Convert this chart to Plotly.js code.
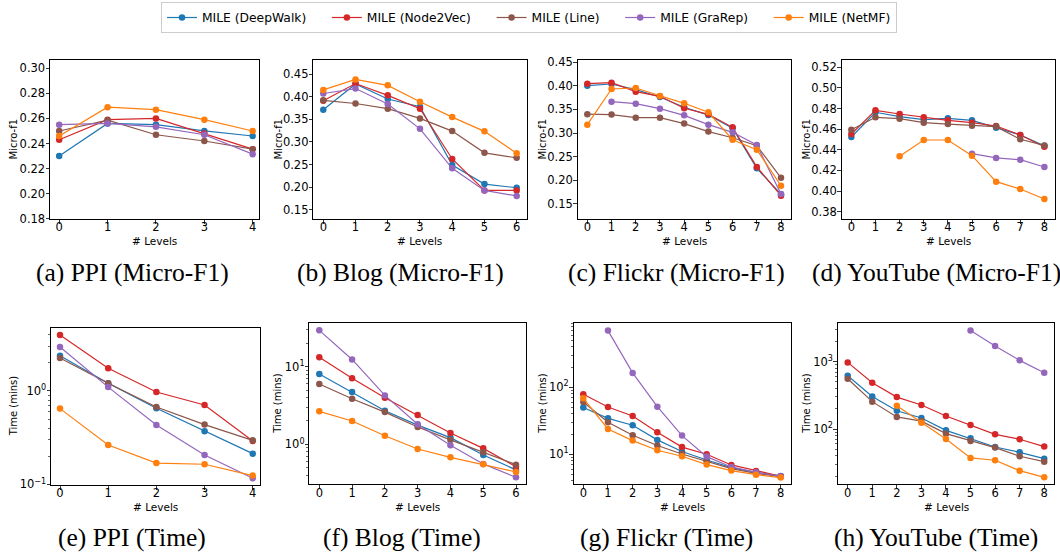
<!DOCTYPE html>
<html><head><meta charset="utf-8">
<script src="https://cdn.plot.ly/plotly-3.0.1.min.js"></script>
<style>html,body{margin:0;padding:0;background:#fff}</style>
</head><body><div id="chart" style="width:1060px;height:552px"></div>
<script>
const methods = ['MILE (DeepWalk)', 'MILE (Node2Vec)', 'MILE (Line)', 'MILE (GraRep)', 'MILE (NetMF)'];
const colors = ['#1f77b4', '#d62728', '#8c564b', '#9467bd', '#ff7f0e'];
const levels4 = [0, 1, 2, 3, 4];
const levels6 = [0, 1, 2, 3, 4, 5, 6];
const levels8 = [0, 1, 2, 3, 4, 5, 6, 7, 8];

// rows: DeepWalk, Node2Vec, Line, GraRep, NetMF
const ppiF1 = [
  [0.230, 0.256, 0.255, 0.250, 0.246],
  [0.243, 0.259, 0.260, 0.248, 0.2355],
  [0.250, 0.2586, 0.247, 0.242, 0.2355],
  [0.255, 0.256, 0.2533, 0.247, 0.2315],
  [0.246, 0.269, 0.267, 0.259, 0.250]
];
const blogF1 = [
  [0.371, 0.428, 0.395, 0.378, 0.249, 0.207, 0.199],
  [0.391, 0.429, 0.403, 0.3735, 0.2625, 0.193, 0.193],
  [0.392, 0.385, 0.3735, 0.352, 0.324, 0.276, 0.265],
  [0.407, 0.418, 0.384, 0.329, 0.242, 0.193, 0.181],
  [0.415, 0.438, 0.425, 0.389, 0.355, 0.3235, 0.275]
];
const flickrF1 = [
  [0.4005, 0.404, 0.392, 0.3764, 0.3545, 0.338, 0.310, 0.225, 0.170],
  [0.4047, 0.4068, 0.3877, 0.3778, 0.3524, 0.3396, 0.312, 0.228, 0.167],
  [0.340, 0.339, 0.3325, 0.3325, 0.320, 0.303, 0.290, 0.273, 0.205],
  [null, 0.3665, 0.3623, 0.3517, 0.3375, 0.3177, 0.3014, 0.2745, 0.1705],
  [0.3177, 0.3934, 0.3955, 0.3785, 0.363, 0.344, 0.2858, 0.2646, 0.188]
];
const youtubeF1 = [
  [0.4524, 0.4764, 0.4721, 0.4692, 0.4705, 0.4686, 0.4615, 0.4544, 0.444],
  [0.4553, 0.4783, 0.4747, 0.4715, 0.4686, 0.4663, 0.4631, 0.4544, 0.443],
  [0.4595, 0.4715, 0.4702, 0.4663, 0.465, 0.4634, 0.4625, 0.4502, 0.4443],
  [null, null, null, null, null, 0.4363, 0.4321, 0.4304, 0.4233],
  [null, null, 0.4337, 0.4495, 0.4495, 0.4343, 0.4091, 0.402, 0.3923]
];
const ppiTime = [
  [2.39, 1.21, 0.652, 0.37, 0.213],
  [3.98, 1.75, 0.976, 0.708, 0.291],
  [2.26, 1.21, 0.674, 0.436, 0.296],
  [2.96, 1.10, 0.432, 0.206, 0.116],
  [0.647, 0.264, 0.169, 0.164, 0.124]
];
const blogTime = [
  [8.05, 4.72, 2.71, 1.77, 1.22, 0.73, 0.468],
  [13.2, 7.08, 3.99, 2.39, 1.40, 0.887, 0.515],
  [5.98, 3.87, 2.60, 1.67, 1.14, 0.789, 0.547],
  [29.4, 12.4, 4.27, 1.81, 0.97, 0.559, 0.376],
  [2.66, 2.00, 1.29, 0.87, 0.68, 0.553, 0.44]
];
const flickrTime = [
  [49.8, 34.4, 27.1, 16.4, 11.0, 8.23, 6.33, 5.38, 4.75],
  [78.7, 50.8, 37.3, 21.3, 12.8, 10.0, 6.93, 5.64, 4.70],
  [60.4, 30.1, 19.2, 13.5, 10.1, 7.78, 6.11, 5.20, 4.64],
  [null, 701, 164, 51.4, 19.0, 9.23, 6.47, 5.38, 4.70],
  [68.5, 23.9, 16.0, 11.5, 9.34, 7.01, 5.71, 4.97, 4.49]
];
const youtubeTime = [
  [620, 305, 187, 146, 95.5, 72.6, 54.0, 45.0, 36.2],
  [977, 488, 298, 227, 156, 115, 83.3, 70.3, 54.7],
  [559, 255, 151, 131, 85.3, 66.4, 52.9, 39.3, 32.7],
  [null, null, null, null, null, 2920, 1710, 1047, 687],
  [null, null, 222, 124, 71.0, 37.1, 34.3, 24.0, 19.1]
];
const captions = ['(a) PPI (Micro-F1)', '(b) Blog (Micro-F1)', '(c) Flickr (Micro-F1)', '(d) YouTube (Micro-F1)',
  '(e) PPI (Time)', '(f) Blog (Time)', '(g) Flickr (Time)', '(h) YouTube (Time)'];
const yTitleF1 = 'Micro-f1';
const yTitleTime = 'Time (mins)';
const xTitle = '# Levels';

const W = 1060, H = 552;
const panels = [
  {data: ppiF1, x: levels4, box: [50, 259, 60, 219], xr: [-0.19, 4.13], log: false, yr: [0.1798, 0.3066], dtick: 0.02, t0: 0.18, ytx: 13, cap: [132.5, 272]},
  {data: blogF1, x: levels6, box: [313.3, 526.5, 60, 219], xr: [-0.31, 6.305], log: false, yr: [0.130, 0.481], dtick: 0.05, t0: 0.15, ytx: 278, cap: [400, 272]},
  {data: flickrF1, x: levels8, box: [577.7, 790.7, 60, 219], xr: [-0.397, 8.4], log: false, yr: [0.1175, 0.4549], dtick: 0.05, t0: 0.15, ytx: 542, cap: [676, 272]},
  {data: youtubeF1, x: levels8, box: [841.7, 1055, 60, 219], xr: [-0.4, 8.44], log: false, yr: [0.3729, 0.5271], dtick: 0.02, t0: 0.38, ytx: 806, cap: [936, 272]},
  {data: ppiTime, x: levels4, box: [51, 260, 327.7, 485], xr: [-0.187, 4.15], log: true, yr: [-1.0075, 0.678], major: [0.1, 1], ytx: 13, cap: [132, 537]},
  {data: blogTime, x: levels6, box: [309.3, 526, 323.3, 484.3], xr: [-0.305, 6.305], log: true, yr: [-0.515, 1.559], major: [1, 10], ytx: 278, cap: [402, 537]},
  {data: flickrTime, x: levels8, box: [573.5, 790.7, 323.3, 484.3], xr: [-0.397, 8.405], log: true, yr: [0.552, 2.955], major: [10, 100], ytx: 543, cap: [666, 537]},
  {data: youtubeTime, x: levels8, box: [837.7, 1054.3, 323.3, 484.3], xr: [-0.407, 8.41], log: true, yr: [1.178, 3.571], major: [100, 1000], ytx: 807, cap: [936, 537]}
];

const font = {family: 'DejaVu Sans', size: 11.5, color: '#000'};
const traces = [];
const layout = {
  width: W, height: H, margin: {l: 0, r: 0, t: 0, b: 0},
  paper_bgcolor: '#fff', plot_bgcolor: '#fff', font: font,
  showlegend: true,
  legend: {orientation: 'h', x: 529 / W, xanchor: 'center', y: 1 - 2 / H, yanchor: 'top',
    bordercolor: '#cccccc', borderwidth: 1, bgcolor: '#fff', font: {family: 'DejaVu Sans', size: 12.3, color: '#000'},
    itemwidth: 30},
  annotations: []
};

function supText(v) {
  const e = Math.round(Math.log10(v));
  return '10<sup>' + (e < 0 ? '\u2212' + (-e) : e) + '</sup>';
}

const pad = '\u00a0\u00a0\u00a0\u00a0';
panels.forEach((p, i) => {
  const n = i + 1;
  const xa = 'xaxis' + (n === 1 ? '' : n), ya = 'yaxis' + (n === 1 ? '' : n);
  const xid = 'x' + (n === 1 ? '' : n), yid = 'y' + (n === 1 ? '' : n);
  const [l, r, t, b] = p.box;
  p.data.forEach((row, k) => {
    traces.push({
      x: p.x, y: row, xaxis: xid, yaxis: yid, type: 'scatter', mode: 'lines+markers',
      name: methods[k] + (k < methods.length - 1 ? pad : ''), showlegend: i === 0,
      line: {color: colors[k], width: 1.2}, marker: {color: colors[k], size: 6.5},
      connectgaps: false, hoverinfo: 'x+y+name'
    });
  });
  layout[xa] = {
    domain: [l / W, r / W], anchor: yid, range: p.xr, tickmode: 'array', tickvals: p.x,
    ticks: 'outside', ticklen: 3.5, tickwidth: 0.8, tickcolor: '#000', ticklabelstandoff: -6,
    showline: true, mirror: true, linecolor: '#000', linewidth: 1,
    showgrid: false, zeroline: false, tickfont: font, fixedrange: true
  };
  const yax = {
    domain: [1 - b / H, 1 - t / H], anchor: xid, range: p.yr,
    ticks: 'outside', ticklen: 3.5, tickwidth: 0.8, tickcolor: '#000', ticklabelstandoff: -2,
    showline: true, mirror: true, linecolor: '#000', linewidth: 1,
    showgrid: false, zeroline: false, tickfont: font, fixedrange: true
  };
  if (p.log) {
    yax.type = 'log';
    yax.tickmode = 'array';
    yax.tickvals = p.major;
    yax.ticktext = p.major.map(supText);
    const minor = [];
    const lo = Math.floor(p.yr[0]), hi = Math.ceil(p.yr[1]);
    for (let e = lo; e <= hi; e++) {
      for (let m = 2; m <= 9; m++) minor.push(m * Math.pow(10, e));
    }
    yax.minor = {tickmode: 'array', tickvals: minor, ticks: 'outside', ticklen: 2, tickwidth: 0.6, tickcolor: '#000', showgrid: false};
  } else {
    yax.tickmode = 'linear';
    yax.tick0 = p.t0;
    yax.dtick = p.dtick;
    yax.tickformat = '.2f';
  }
  layout[ya] = yax;
  layout.annotations.push({
    xref: 'paper', yref: 'paper', x: p.ytx / W, y: 1 - ((t + b) / 2) / H,
    text: p.log ? yTitleTime : yTitleF1, textangle: -90, showarrow: false,
    xanchor: 'center', yanchor: 'middle', font: {family: 'DejaVu Sans', size: 10, color: '#000'}
  });
  layout.annotations.push({
    xref: 'paper', yref: 'paper', x: ((l + r) / 2) / W, y: 1 - (i < 4 ? 241 : 507) / H,
    text: xTitle, showarrow: false, xanchor: 'center', yanchor: 'middle',
    font: {family: 'DejaVu Sans', size: 10.5, color: '#000'}
  });
  layout.annotations.push({
    xref: 'paper', yref: 'paper', x: p.cap[0] / W, y: 1 - p.cap[1] / H,
    text: captions[i], showarrow: false, xanchor: 'center', yanchor: 'middle',
    font: {family: 'Liberation Serif', size: 25.5, color: '#000'}
  });
});

Plotly.newPlot('chart', traces, layout, {displayModeBar: false, staticPlot: true});
</script>
</body></html>
